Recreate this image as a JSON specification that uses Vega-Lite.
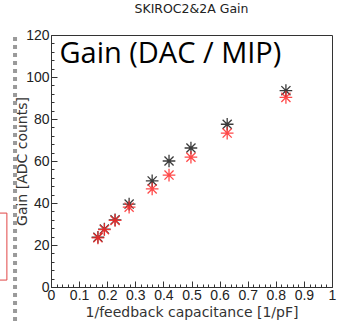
{
  "$schema": "https://vega.github.io/schema/vega-lite/v6.json",
  "autosize": "none",
  "width": 281,
  "height": 252,
  "padding": {"left": 51, "top": 35, "right": 8, "bottom": 35},
  "background": "white",
  "title": {
    "text": "SKIROC2&2A Gain",
    "font": "DejaVu Sans",
    "fontSize": 12.5,
    "fontWeight": "normal",
    "color": "#222",
    "offset": 13,
    "anchor": "middle"
  },
  "config": {
    "view": {"stroke": "#333", "strokeWidth": 1},
    "axis": {
      "labelFont": "Liberation Sans",
      "labelFontSize": 14,
      "labelColor": "#222",
      "titleFont": "DejaVu Sans",
      "titleFontSize": 14,
      "titleFontWeight": "normal",
      "titleColor": "#333",
      "domainColor": "#333",
      "tickColor": "#333",
      "grid": false
    }
  },
  "datasets": {
    "gain": [
      {"inv_cf": 0.167, "gain": 23.7, "chip": "SKIROC2"},
      {"inv_cf": 0.19, "gain": 27.6, "chip": "SKIROC2"},
      {"inv_cf": 0.228, "gain": 32.0, "chip": "SKIROC2"},
      {"inv_cf": 0.278, "gain": 39.5, "chip": "SKIROC2"},
      {"inv_cf": 0.36, "gain": 50.5, "chip": "SKIROC2"},
      {"inv_cf": 0.42, "gain": 60.0, "chip": "SKIROC2"},
      {"inv_cf": 0.498, "gain": 66.2, "chip": "SKIROC2"},
      {"inv_cf": 0.627, "gain": 77.5, "chip": "SKIROC2"},
      {"inv_cf": 0.836, "gain": 93.5, "chip": "SKIROC2"},
      {"inv_cf": 0.167, "gain": 23.4, "chip": "SKIROC2A"},
      {"inv_cf": 0.19, "gain": 27.3, "chip": "SKIROC2A"},
      {"inv_cf": 0.228, "gain": 31.7, "chip": "SKIROC2A"},
      {"inv_cf": 0.278, "gain": 38.0, "chip": "SKIROC2A"},
      {"inv_cf": 0.36, "gain": 46.7, "chip": "SKIROC2A"},
      {"inv_cf": 0.42, "gain": 53.3, "chip": "SKIROC2A"},
      {"inv_cf": 0.498, "gain": 61.8, "chip": "SKIROC2A"},
      {"inv_cf": 0.627, "gain": 73.3, "chip": "SKIROC2A"},
      {"inv_cf": 0.836, "gain": 90.3, "chip": "SKIROC2A"}
    ],
    "label": [{"x": 0.03, "y": 111, "text": "Gain (DAC / MIP)"}]
  },
  "encoding": {
    "x": {
      "type": "quantitative",
      "scale": {"domain": [0, 1], "nice": false, "zero": true},
      "title": "1/feedback capacitance [1/pF]",
      "axis": {
        "values": [0,0.02,0.04,0.06,0.08,0.1,0.12,0.14,0.16,0.18,0.2,0.22,0.24,0.26,0.28,0.3,0.32,0.34,0.36,0.38,0.4,0.42,0.44,0.46,0.48,0.5,0.52,0.54,0.56,0.58,0.6,0.62,0.64,0.66,0.68,0.7,0.72,0.74,0.76,0.78,0.8,0.82,0.84,0.86,0.88,0.9,0.92,0.94,0.96,0.98,1],
        "labelExpr": "round(datum.value * 100) % 10 === 0 ? format(datum.value, '~g') : ''",
        "tickSize": {"condition": {"test": "round(datum.value * 100) % 10 === 0", "value": -6}, "value": -3},
        "labelPadding": 7,
        "labelFlush": false,
        "labelOverlap": false,
        "titlePadding": 0
      }
    },
    "y": {
      "type": "quantitative",
      "scale": {"domain": [0, 120], "nice": false},
      "title": "Gain [ADC counts]",
      "axis": {
        "values": [0,4,8,12,16,20,24,28,32,36,40,44,48,52,56,60,64,68,72,76,80,84,88,92,96,100,104,108,112,116,120],
        "labelExpr": "datum.value % 20 === 0 ? datum.label : ''",
        "tickSize": {"condition": {"test": "datum.value % 20 === 0", "value": -6}, "value": -3},
        "labelPadding": 8,
        "labelFlush": false,
        "labelOverlap": false,
        "titlePadding": -4
      }
    }
  },
  "layer": [
    {
      "data": {"values": [{}]},
      "mark": {"type": "rule", "color": "#9a9a9a", "strokeWidth": 4, "strokeDash": [4, 4]},
      "encoding": {
        "x": {"datum": -0.128},
        "y": {"datum": 119},
        "y2": {"datum": -17}
      }
    },
    {
      "data": {"values": [{}]},
      "mark": {"type": "rect", "fill": null, "stroke": "#e04545", "strokeWidth": 1},
      "encoding": {
        "x": {"datum": -0.25},
        "x2": {"datum": -0.157},
        "y": {"datum": 35.2},
        "y2": {"datum": 3.3}
      }
    },
    {
      "data": {"name": "gain"},
      "mark": {
        "type": "point",
        "shape": "M-1,0L1,0M0,-1L0,1M-0.72,-0.72L0.72,0.72M-0.72,0.72L0.72,-0.72",
        "filled": false,
        "size": 160,
        "strokeWidth": 1.3,
        "opacity": 0.85
      },
      "encoding": {
        "x": {"field": "inv_cf", "type": "quantitative"},
        "y": {"field": "gain", "type": "quantitative"},
        "color": {
          "field": "chip",
          "type": "nominal",
          "scale": {"domain": ["SKIROC2", "SKIROC2A"], "range": ["#1a1a1a", "#ff2a2a"]},
          "legend": null
        }
      }
    },
    {
      "data": {"name": "label"},
      "mark": {
        "type": "text",
        "align": "left",
        "baseline": "middle",
        "font": "Open Sans",
        "fontSize": 29,
        "color": "#000"
      },
      "encoding": {
        "x": {"field": "x", "type": "quantitative"},
        "y": {"field": "y", "type": "quantitative"},
        "text": {"field": "text"}
      }
    }
  ]
}
